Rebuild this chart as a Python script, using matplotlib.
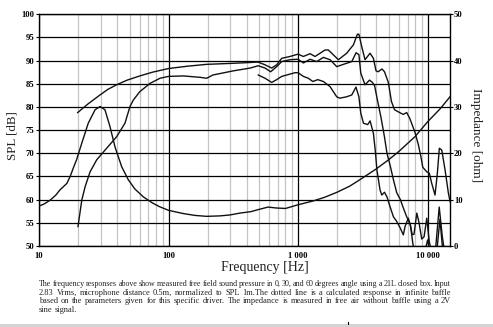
import matplotlib
matplotlib.use("Agg")
import matplotlib.pyplot as plt
from matplotlib.ticker import LogLocator, NullFormatter, FixedLocator
from matplotlib.patches import Rectangle

# ---------------- data ----------------
imp_freq = [10, 11, 12.2, 13.5, 14.5, 16.4, 17.4, 18.5, 19.5, 21.4, 24, 27.1, 29.6, 32.3,
            35.3, 38.6, 43.5, 48.9, 55, 63.9, 75, 85, 100, 130, 160, 197, 250, 298, 356,
            430, 500, 587, 680, 800, 1000, 1300, 1600, 2000, 2500, 3000, 4000, 5000, 6000,
            8000, 10000, 12500, 14900]
imp_ohm = [8.6, 9.1, 9.9, 11.0, 12.1, 13.5, 15.0, 17.0, 18.6, 22.2, 26.5, 29.4, 30.1, 29.4,
           25.8, 21.4, 17.1, 14.3, 12.3, 10.6, 9.3, 8.5, 7.7, 7.0, 6.6, 6.4, 6.5, 6.7, 7.1,
           7.4, 7.9, 8.4, 8.2, 8.1, 8.9, 9.7, 10.5, 11.6, 12.9, 14.3, 16.6, 18.6, 20.4,
           23.6, 26.8, 29.6, 32.2]

calc_freq = [19.9, 24, 29.6, 34, 39.8, 48, 60, 75, 100, 140, 197, 300, 427, 490]
calc_spl = [78.8, 80.7, 82.6, 83.8, 84.8, 85.8, 86.7, 87.5, 88.3, 88.8, 89.2, 89.4, 89.6, 89.7]

# 0 deg measured response (continues as the middle curve at high frequencies)
spl0_freq = [20, 21.4, 22.7, 24.8, 27.9, 33.3, 39.8, 46.1, 50.4, 53.5, 60, 72, 86, 100, 130,
             175, 197, 220, 317, 427, 493, 556, 615, 684, 748, 867, 1000, 1099, 1238, 1393,
             1569, 1766, 1989, 2240, 2600, 2806, 2950, 3050, 3290, 3565, 3750, 3900, 4100,
             4380, 4650, 4860, 5130, 5450, 5780, 6170, 6500, 6900, 7330, 7600, 7850, 8260,
             8600, 9010, 9400, 9860, 10300, 10770, 11500, 12300, 13000, 13650, 14900]
spl0_db = [54.2, 59.9, 62.8, 66.0, 68.6, 71.1, 73.6, 76.5, 80.1, 81.5, 83.3, 85.1, 86.2, 86.6,
           86.7, 86.4, 86.2, 86.9, 87.8, 88.4, 88.9, 88.4, 87.6, 88.7, 89.8, 90.2, 90.3, 89.5,
           90.3, 89.8, 90.7, 90.2, 88.7, 89.2, 89.8, 91.7, 91.3, 87.3, 84.8, 85.8, 85.3, 84.6,
           81.5, 77.6, 73.5, 70.0, 67.5, 64.3, 61.5, 60.0, 58.2, 56.3, 54.8, 52.5, 52.5, 57.1,
           55.0, 51.5, 52.0, 56.0, 51.0, 48.5, 49.0, 58.4, 52.0, 48.0, 47.0]

# top curve at high frequencies
top_freq = [490, 556, 626, 684, 748, 867, 1000, 1099, 1238, 1353, 1616, 1714, 2048, 2374,
            2675, 2872, 2950, 3104, 3290, 3597, 3818, 4000, 4150, 4450, 4650, 4980, 5260,
            5560, 6170, 6500, 6900, 7300, 8000, 8500, 8880, 9180, 9860, 10320, 10770, 11420,
            11900, 12330, 12870, 13650, 14480, 14920]
top_db = [89.7, 89.1, 88.4, 89.1, 90.5, 90.9, 91.4, 90.9, 91.5, 90.9, 92.3, 92.3, 90.2, 91.6,
          93.4, 95.7, 95.7, 93.0, 90.2, 91.6, 90.5, 87.8, 87.6, 88.2, 87.6, 85.3, 81.2,
          79.4, 78.7, 78.4, 78.8, 77.5, 74.5, 71.8, 69.3, 67.0, 66.0, 65.7, 63.5, 61.0,
          65.7, 71.1, 70.7, 66.4, 61.4, 59.6]

# bottom curve
bot_freq = [493, 556, 626, 684, 748, 867, 950, 1000, 1099, 1200, 1300, 1420, 1569, 1766,
            1989, 2100, 2374, 2600, 2800, 2950, 3050, 3200, 3450, 3600, 3818, 3950, 4060,
            4295, 4430, 4650, 4860, 5130, 5450, 5780, 6170, 6500, 6700, 7100, 7400, 7700,
            8000, 9500, 10000, 10500, 11800, 12460, 13100, 13500]
bot_db = [86.9, 86.2, 85.3, 85.9, 86.6, 87.1, 87.4, 87.4, 86.6, 86.2, 85.5, 85.9, 85.5, 84.4,
          82.2, 81.9, 82.2, 82.6, 84.3, 82.2, 78.7, 76.5, 76.2, 77.0, 74.3, 70.5, 66.5,
          62.1, 61.0, 61.6, 60.6, 58.5, 56.3, 55.3, 53.8, 52.4, 54.2, 56.0, 54.2, 50.5,
          48.5, 48.5, 51.3, 48.5, 49.0, 55.8, 49.0, 48.0]

spl_ticks = [50, 55, 60, 65, 70, 75, 80, 85, 90, 95, 100]
imp_ticks = [0, 10, 20, 30, 40, 50]
x_major = [10, 100, 1000, 10000]
x_labels = ["10", "100", "1 000", "10 000"]

caption_lines = [
    "The frequency responses above show measured free field sound pressure in 0, 30, and 60 degrees angle using a 21L closed box. Input",
    "2.83 Vrms, microphone distance 0.5m, normalized to SPL 1m.The dotted line is a calculated response in infinite baffle",
    "based on the parameters given for this specific driver. The impedance is measured in free air without baffle using a 2V",
    "sine signal.",
]

# ---------------- figure ----------------
W, H = 493, 327
fig = plt.figure(figsize=(W / 100, H / 100), dpi=100)
fig.patch.set_facecolor("white")
serif = "Liberation Serif"

L, R, T, B = 39, 450, 14.3, 246
ax = fig.add_axes([L / W, 1 - B / H, (R - L) / W, (B - T) / H])
ax.set_xscale("log")
ax.set_xlim(10, 14900)
ax.set_ylim(50, 100)

# grid
ax.set_yticks(spl_ticks)
ax.xaxis.set_major_locator(FixedLocator(x_major))
ax.xaxis.set_minor_locator(LogLocator(base=10, subs=[2, 3, 4, 5, 6, 7, 8, 9]))
ax.xaxis.set_minor_formatter(NullFormatter())
ax.set_xticklabels(x_labels)
ax.grid(which="minor", axis="x", color="#c4c4c4", lw=0.9)
ax.grid(which="major", axis="x", color="black", lw=0.9)
ax.grid(which="major", axis="y", color="black", lw=0.9)
ax.set_axisbelow(True)

for s in ax.spines.values():
    s.set_linewidth(1.0)
    s.set_color("black")

ax.tick_params(axis="x", which="both", length=0, pad=4.5, labelsize=6.2)
ax.tick_params(axis="y", which="both", length=2.5, width=0.8, pad=0.8, labelsize=6.2,
               direction="out")
for lab in ax.get_xticklabels() + ax.get_yticklabels():
    lab.set_fontfamily(serif)
    lab.set_fontweight("bold")

lc = "#111111"
lw = 1.0
ax.plot(calc_freq, calc_spl, color=lc, lw=lw)
ax.plot(spl0_freq, spl0_db, color=lc, lw=lw)
ax.plot(top_freq, top_db, color=lc, lw=lw)
ax.plot(bot_freq, bot_db, color=lc, lw=lw)

ax2 = ax.twinx()
ax2.set_ylim(0, 50)
ax2.set_yticks(imp_ticks)
ax2.tick_params(axis="y", length=1.8, width=0.8, pad=1.0, labelsize=6.2, direction="out")
for lab in ax2.get_yticklabels():
    lab.set_fontfamily(serif)
    lab.set_fontweight("bold")
for s in ax2.spines.values():
    s.set_visible(False)
ax2.plot(imp_freq, imp_ohm, color=lc, lw=lw, clip_on=True)

# axis labels
fig.text(12.5 / W, 1 - 136 / H, "SPL [dB]", rotation=90, ha="center", va="center",
         fontsize=9.3, family=serif, color="#222222")
fig.text(476 / W, 1 - 135 / H, "Impedance [ohm]", rotation=-90, ha="center", va="center",
         fontsize=9.5, family=serif, color="#222222")
fig.text(265 / W, 1 - 267.5 / H, "Frequency [Hz]", ha="center", va="center",
         fontsize=10, family=serif, color="#222222")

# caption, justified
renderer = fig.canvas.get_renderer()
cap_left, cap_right = 39, 451
avail = cap_right - cap_left
cap_y = [284, 292.7, 301.4, 310]
base_fs = 6.0
min_gap = 1.3


def measure(words, fs):
    ws = []
    for w in words:
        t = fig.text(0, 0, w, fontsize=fs, family=serif)
        ws.append(t.get_window_extent(renderer=renderer).width)
        t.remove()
    return ws


for i, line in enumerate(caption_lines):
    words = line.split(" ")
    last = (i == len(caption_lines) - 1)
    fs = base_fs
    widths = measure(words, fs)
    if not last:
        while sum(widths) + min_gap * (len(words) - 1) > avail and fs > 3:
            fs -= 0.1
            widths = measure(words, fs)
        gap = (avail - sum(widths)) / (len(words) - 1)
    else:
        gap = 2.0
    x = cap_left
    for w, wd in zip(words, widths):
        fig.text(x / W, 1 - cap_y[i] / H, w, fontsize=fs, family=serif, color="#222222",
                 ha="left", va="center")
        x += wd + gap

# bottom grey band and small mark
fig.patches.append(Rectangle((0, 0), 1, 2.7 / H, transform=fig.transFigure,
                             facecolor="#d4d4d4", edgecolor="none", zorder=0))
fig.lines.append(plt.Line2D([348 / W, 348 / W], [2.7 / H, 5.5 / H],
                            transform=fig.transFigure, color="black", lw=0.8))

fig.savefig("out.png", dpi=100, facecolor="white")
